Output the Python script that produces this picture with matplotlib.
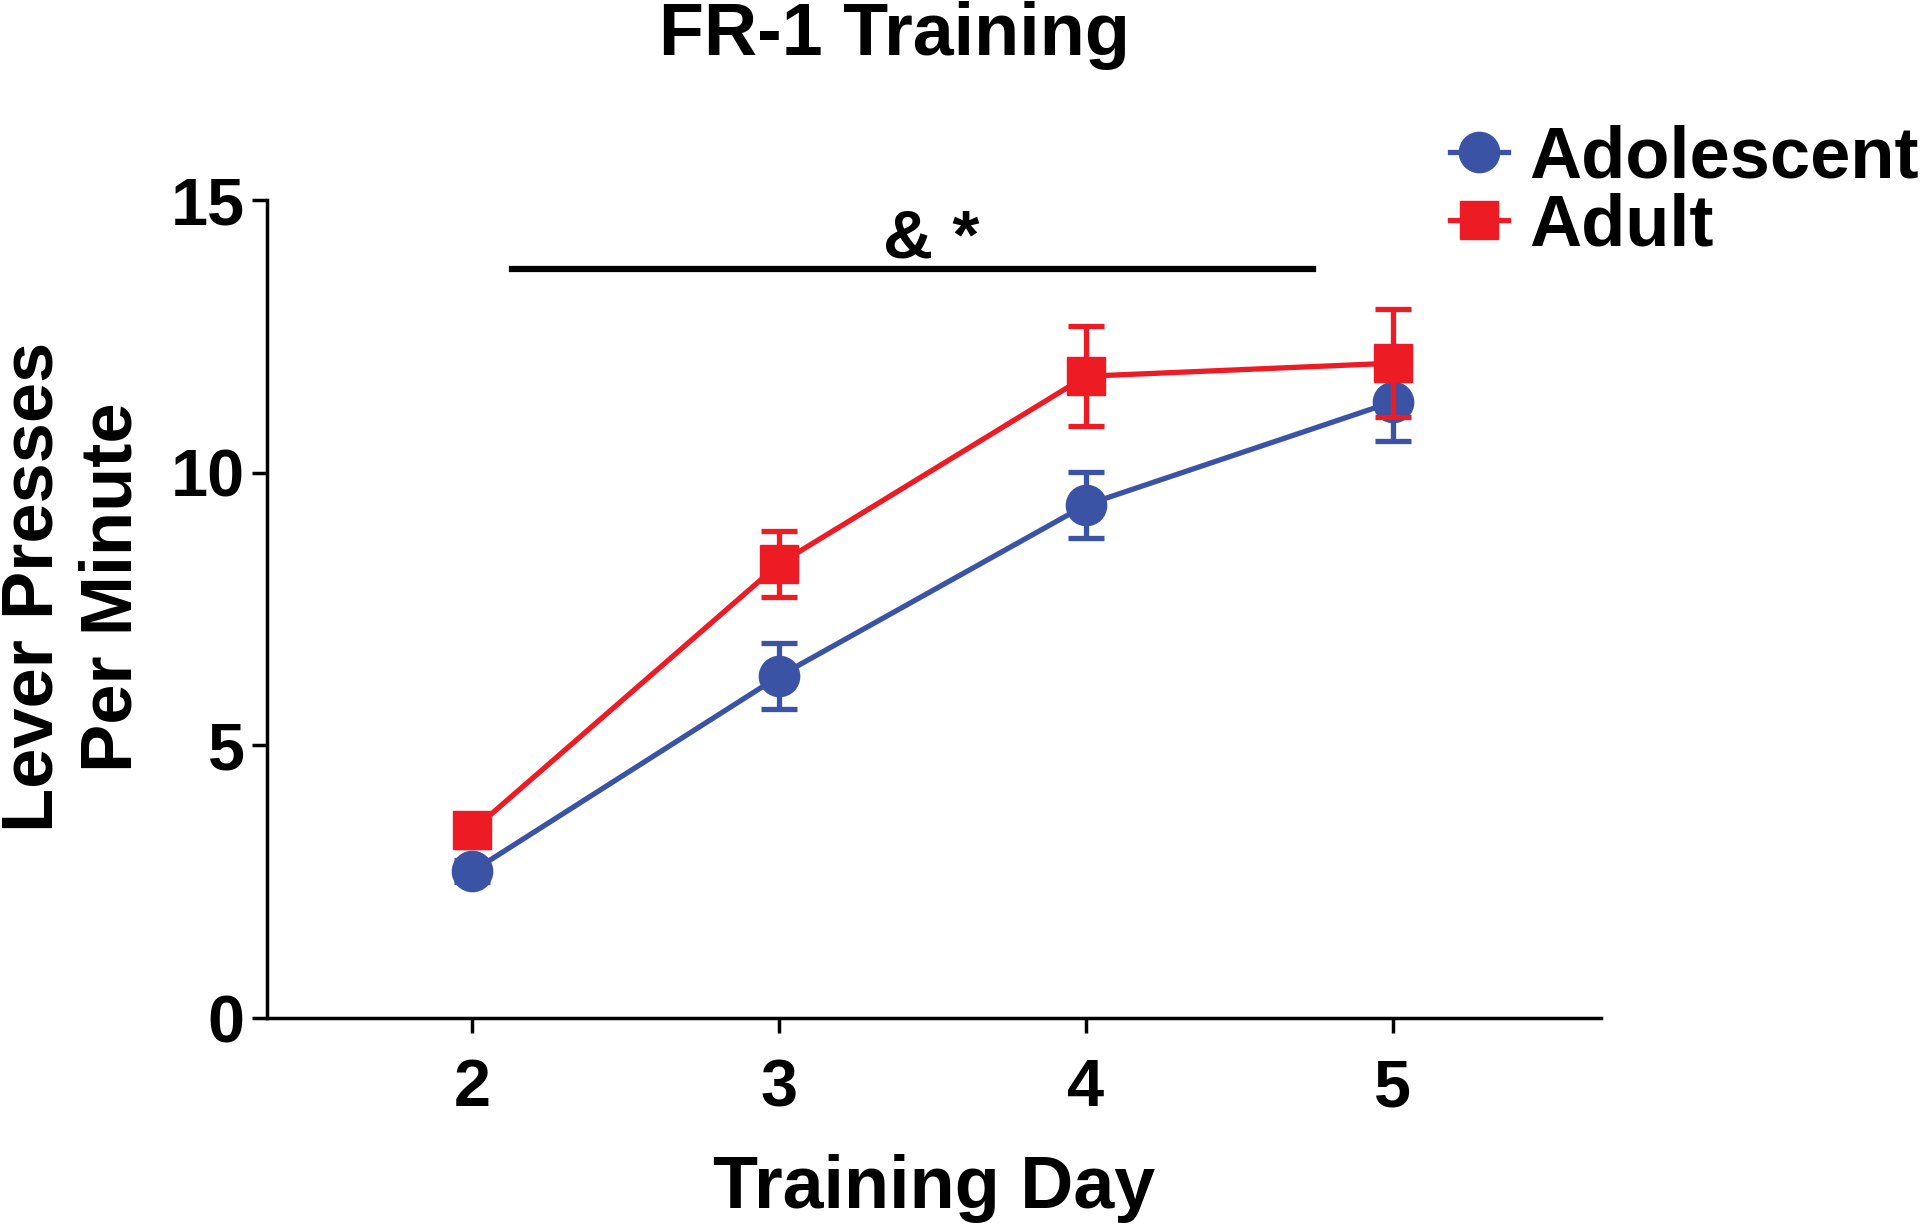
import matplotlib
matplotlib.use('Agg')
import matplotlib.pyplot as plt
from matplotlib.lines import Line2D

plt.rcParams['font.family'] = ['Liberation Sans', 'DejaVu Sans']
plt.rcParams['font.weight'] = 'bold'

# data
days = [2, 3, 4, 5]
adolescent_mean = [2.69, 6.27, 9.41, 11.30]
adolescent_sem = [0.20, 0.60, 0.60, 0.72]
adult_mean = [3.44, 8.33, 11.77, 12.01]
adult_sem = [0.30, 0.60, 0.92, 0.99]
sig_span = [2.13, 4.74]
sig_y = 13.73
sig_label = '& *'

blue = '#3A53A4'
red = '#ED1C24'

fig = plt.figure(figsize=(19.2, 12.28), dpi=100)
ax = fig.add_axes([0.139, 0.171, 0.695, 0.666])

ax.errorbar(days, adolescent_mean, yerr=adolescent_sem, color=blue, marker='o',
            markersize=29, linewidth=3.8, elinewidth=3.8, capsize=13, capthick=3.8,
            zorder=3)
ax.errorbar(days, adult_mean, yerr=adult_sem, color=red, marker='s',
            markersize=27, linewidth=3.8, elinewidth=3.8, capsize=13, capthick=3.8,
            zorder=4)

# significance bar
ax.plot(sig_span, [sig_y, sig_y], color='black', linewidth=4.5, clip_on=False)
ax.text(sum(sig_span) / 2 + 0.06, sig_y + 0.22, sig_label, ha='center', va='baseline',
        fontsize=50, fontweight='bold')

ax.set_xlim(1.33, 5.68)
ax.set_ylim(0, 15)
ax.set_xticks(days)
ax.set_yticks([0, 5, 10, 15])
for s in ['top', 'right']:
    ax.spines[s].set_visible(False)
for s in ['left', 'bottom']:
    ax.spines[s].set_linewidth(2.5)
ax.tick_params(axis='both', width=2.5, length=11, labelsize=48)
ax.tick_params(axis='x', pad=18)
ax.tick_params(axis='y', pad=5)

fig.text(0.4656, 0.955, 'FR-1 Training', ha='center', va='baseline',
         fontsize=53, fontweight='bold')

ax.set_xlabel('Training Day', fontsize=53, fontweight='bold', labelpad=24)
fig.text(0.038, 0.522, 'Lever Presses\nPer Minute', rotation=90, ha='center',
         va='center', fontsize=52, fontweight='bold', linespacing=1.22)

handles = [
    Line2D([], [], color=blue, marker='o', markersize=29, linewidth=3.8),
    Line2D([], [], color=red, marker='s', markersize=27, linewidth=3.8),
]
ax.legend(handles, ['Adolescent', 'Adult'], loc='upper left',
          bbox_to_anchor=(0.865, 1.128), frameon=False, fontsize=52,
          handlelength=0.8, handletextpad=0.3, labelspacing=0.0,
          borderaxespad=0)

fig.savefig('out.png', dpi=100)
